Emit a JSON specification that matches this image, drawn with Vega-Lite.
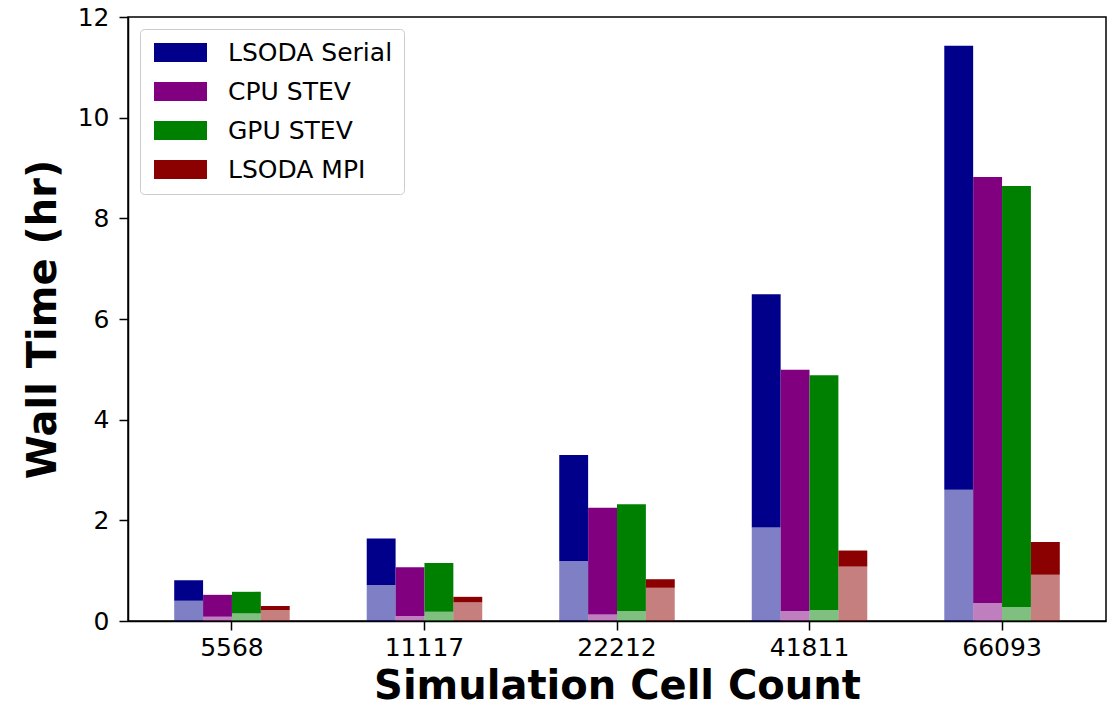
{
  "$schema": "https://vega.github.io/schema/vega-lite/v6.json",
  "width": 978,
  "height": 604,
  "autosize": {"type": "none"},
  "padding": {"left": 128, "top": 17, "right": 8, "bottom": 91},
  "background": "white",
  "config": {
    "font": "DejaVu Sans",
    "view": {"stroke": "black", "strokeWidth": 1.5},
    "axis": {"domainColor": "black", "domainWidth": 1.5, "tickColor": "black", "tickWidth": 1.5, "tickSize": 9, "labelColor": "black", "labelFont": "DejaVu Sans", "labelFontSize": 25, "titleFont": "DejaVu Sans", "titleFontSize": 40, "titleFontWeight": "bold", "titleColor": "black", "grid": false},
    "legend": {"symbolOpacity": 1}
  },
  "data": {
    "values": [
      {"count": "5568", "method": "LSODA Serial", "total": 0.81, "part": 0.40},
      {"count": "5568", "method": "CPU STEV", "total": 0.52, "part": 0.085},
      {"count": "5568", "method": "GPU STEV", "total": 0.58, "part": 0.15},
      {"count": "5568", "method": "LSODA MPI", "total": 0.30, "part": 0.22},
      {"count": "11117", "method": "LSODA Serial", "total": 1.64, "part": 0.715},
      {"count": "11117", "method": "CPU STEV", "total": 1.07, "part": 0.10},
      {"count": "11117", "method": "GPU STEV", "total": 1.15, "part": 0.185},
      {"count": "11117", "method": "LSODA MPI", "total": 0.48, "part": 0.37},
      {"count": "22212", "method": "LSODA Serial", "total": 3.30, "part": 1.19},
      {"count": "22212", "method": "CPU STEV", "total": 2.25, "part": 0.13},
      {"count": "22212", "method": "GPU STEV", "total": 2.32, "part": 0.20},
      {"count": "22212", "method": "LSODA MPI", "total": 0.83, "part": 0.66},
      {"count": "41811", "method": "LSODA Serial", "total": 6.49, "part": 1.86},
      {"count": "41811", "method": "CPU STEV", "total": 4.99, "part": 0.20},
      {"count": "41811", "method": "GPU STEV", "total": 4.88, "part": 0.22},
      {"count": "41811", "method": "LSODA MPI", "total": 1.40, "part": 1.08},
      {"count": "66093", "method": "LSODA Serial", "total": 11.43, "part": 2.61},
      {"count": "66093", "method": "CPU STEV", "total": 8.82, "part": 0.36},
      {"count": "66093", "method": "GPU STEV", "total": 8.64, "part": 0.28},
      {"count": "66093", "method": "LSODA MPI", "total": 1.57, "part": 0.92}
    ]
  },
  "encoding": {
    "x": {
      "field": "count", "type": "nominal", "sort": null,
      "scale": {"paddingInner": 0.4, "paddingOuter": 0.24},
      "axis": {"title": "Simulation Cell Count", "labelAngle": 0, "labelPadding": 5, "titlePadding": 6}
    },
    "xOffset": {
      "field": "method", "type": "nominal",
      "sort": ["LSODA Serial", "CPU STEV", "GPU STEV", "LSODA MPI"]
    },
    "color": {
      "field": "method", "type": "nominal",
      "sort": ["LSODA Serial", "CPU STEV", "GPU STEV", "LSODA MPI"],
      "scale": {"domain": ["LSODA Serial", "CPU STEV", "GPU STEV", "LSODA MPI"], "range": ["#00008B", "#800080", "#008000", "#8B0000"]},
      "legend": {
        "title": null,
        "orient": "top-left",
        "offset": 12,
        "padding": 11,
        "fillColor": "rgba(255,255,255,0.8)",
        "strokeColor": "#cccccc",
        "cornerRadius": 4,
        "symbolType": "M-1,-1L4.58,-1L4.58,1L-1,1Z",
        "symbolSize": 361,
        "symbolStrokeWidth": 0,
        "symbolOpacity": 1,
        "labelFontSize": 25,
        "labelFont": "DejaVu Sans",
        "labelColor": "black",
        "labelLimit": 400,
        "labelOffset": 52,
        "rowPadding": 13
      }
    }
  },
  "layer": [
    {
      "mark": {"type": "bar"},
      "encoding": {
        "y": {
          "field": "part", "type": "quantitative",
          "scale": {"domain": [0, 12], "nice": false},
          "axis": {"title": "Wall Time (hr)", "values": [0, 2, 4, 6, 8, 10, 12], "labelPadding": 10, "titlePadding": 14}
        },
        "y2": {"field": "total"}
      }
    },
    {
      "mark": {"type": "bar", "opacity": 0.5},
      "encoding": {
        "y": {"field": "part", "type": "quantitative"}
      }
    }
  ]
}
